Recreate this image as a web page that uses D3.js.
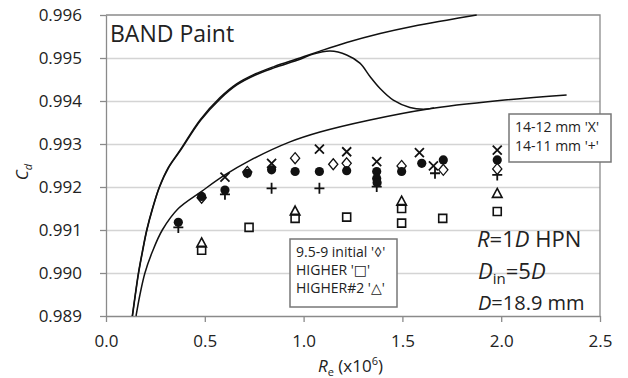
<!DOCTYPE html>
<html>
<head>
<meta charset="utf-8">
<script src="https://cdn.jsdelivr.net/npm/d3@7"></script>
<style>
  body { margin: 0; background: #fff; }
  svg { display: block; }
  text { font-family: "Open Sans", "DejaVu Sans", sans-serif; fill: #222; }
</style>
</head>
<body>
<div id="chart"></div>
<script>
////////////////////////////////////////////////////////////////////////
// Data: [Re (x10^6), Cd]

// filled circles (unlabelled series)
let dotPts = [
  [0.366, 0.99118], [0.484, 0.99178], [0.602, 0.99193], [0.715, 0.99232],
  [0.838, 0.99240], [0.957, 0.99236], [1.080, 0.99236], [1.218, 0.99238],
  [1.370, 0.99236], [1.370, 0.99220], [1.372, 0.99210], [1.496, 0.99236],
  [1.598, 0.99255], [1.707, 0.99263], [1.980, 0.99263]
];
// 9.5-9 initial (open diamond)
let diamondPts = [
  [0.484, 0.99175], [0.715, 0.99235], [0.957, 0.99267], [1.150, 0.99253],
  [1.218, 0.99255], [1.496, 0.99249], [1.707, 0.99240], [1.980, 0.99242]
];
// 14-12 mm (X)
let timesPts = [
  [0.602, 0.99223], [0.838, 0.99255], [1.080, 0.99288], [1.218, 0.99282],
  [1.370, 0.99259], [1.586, 0.99280], [1.657, 0.99249], [1.980, 0.99286]
];
// 14-11 mm (+)
let plusPts = [
  [0.366, 0.99106], [0.602, 0.99183], [0.838, 0.99197], [1.080, 0.99197],
  [1.370, 0.99201], [1.665, 0.99232], [1.980, 0.99228]
];
// HIGHER (square)
let squarePts = [
  [0.484, 0.99053], [0.724, 0.99106], [0.957, 0.99127], [1.218, 0.99130],
  [1.496, 0.99150], [1.496, 0.99116], [1.704, 0.99127], [1.980, 0.99143]
];
// HIGHER#2 (triangle)
let trianglePts = [
  [0.484, 0.99069], [0.957, 0.99143], [1.496, 0.99166], [1.980, 0.99184]
];

// theory curves
let curveUpper = [
  [0.133, 0.9890], [0.148, 0.9895], [0.164, 0.9900], [0.184, 0.9905],
  [0.206, 0.9910], [0.235, 0.9915], [0.270, 0.9920], [0.315, 0.99245],
  [0.374, 0.99285], [0.476, 0.99356], [0.577, 0.99408], [0.661, 0.99440],
  [0.750, 0.99462], [0.850, 0.99480], [0.982, 0.99500], [1.083, 0.99516],
  [1.218, 0.99536], [1.387, 0.99557], [1.555, 0.99574], [1.724, 0.99588],
  [1.876, 0.99600]
];
let curveHump = [
  [0.134, 0.9890], [0.149, 0.9895], [0.165, 0.9900], [0.185, 0.9905],
  [0.207, 0.9910], [0.236, 0.9915], [0.271, 0.9920], [0.317, 0.99245],
  [0.377, 0.99285], [0.479, 0.99355], [0.580, 0.99406], [0.664, 0.99438],
  [0.753, 0.99460], [0.850, 0.99477], [0.982, 0.99497], [1.049, 0.99509],
  [1.134, 0.99516], [1.218, 0.99507], [1.285, 0.99488], [1.336, 0.99457],
  [1.387, 0.99429], [1.454, 0.99402], [1.538, 0.99385], [1.606, 0.99381],
  [1.660, 0.99384]
];
let curveLower = [
  [0.152, 0.9890], [0.172, 0.9895], [0.197, 0.9900], [0.235, 0.9905],
  [0.285, 0.9910], [0.366, 0.9915], [0.484, 0.9919], [0.602, 0.99228],
  [0.729, 0.99262], [0.931, 0.99305], [1.083, 0.99328], [1.336, 0.99356],
  [1.623, 0.99381], [1.992, 0.99401], [2.331, 0.99414]
];

// axis ticks
let xTicks = [0.0, 0.5, 1.0, 1.5, 2.0, 2.5];
let yTicks = [0.989, 0.990, 0.991, 0.992, 0.993, 0.994, 0.995, 0.996];

////////////////////////////////////////////////////////////////////////
// svg and scales

let width = 628;
let height = 378;
let plotLeft = 106, plotRight = 600, plotTop = 15, plotBottom = 316;

let svg = d3.select("#chart")
  .append("svg")
  .attr("width", width).attr("height", height);

let xScale = d3.scaleLinear().domain([0, 2.5]).range([plotLeft, plotRight]);
let yScale = d3.scaleLinear().domain([0.989, 0.996]).range([plotBottom, plotTop]);

// gridlines
svg.append("g")
  .attr("class", "grid")
  .attr("transform", "translate(" + plotLeft + ",0)")
  .call(d3.axisLeft(yScale).tickValues(yTicks.slice(1, -1)).tickSize(-(plotRight - plotLeft)).tickFormat(""))
  .call(g => g.select(".domain").remove())
  .selectAll("line").attr("stroke", "#d4d4d4").attr("stroke-width", 1.6);

// plot frame (top and right)
svg.append("path")
  .attr("d", "M" + plotLeft + "," + plotTop + "H" + plotRight + "V" + plotBottom)
  .attr("fill", "none").attr("stroke", "#8a8a8a").attr("stroke-width", 1.3);

// y axis
let yAxis = svg.append("g")
  .attr("transform", "translate(" + plotLeft + ",0)")
  .call(d3.axisLeft(yScale).tickValues(yTicks).tickFormat(d3.format(".3f"))
    .tickSizeInner(6).tickSizeOuter(0).tickPadding(18));
yAxis.select(".domain").attr("stroke", "#8a8a8a").attr("stroke-width", 1.3);
yAxis.selectAll("line").attr("stroke", "#8a8a8a").attr("stroke-width", 1.3);
yAxis.selectAll("text").style("font-size", "17px").attr("fill", "#333");

// x axis
let xAxis = svg.append("g")
  .attr("transform", "translate(0," + plotBottom + ")")
  .call(d3.axisBottom(xScale).tickValues(xTicks).tickFormat(d3.format(".1f"))
    .tickSizeInner(6).tickSizeOuter(0).tickPadding(13));
xAxis.select(".domain").attr("stroke", "#8a8a8a").attr("stroke-width", 1.3);
xAxis.selectAll("line").attr("stroke", "#8a8a8a").attr("stroke-width", 1.3);
xAxis.selectAll("text").style("font-size", "17px").attr("fill", "#333");

////////////////////////////////////////////////////////////////////////
// curves

let line = d3.line()
  .x(d => xScale(d[0]))
  .y(d => yScale(d[1]))
  .curve(d3.curveCatmullRom.alpha(0.5));

svg.append("g")
  .selectAll(".curve")
  .data([curveUpper, curveHump, curveLower])
  .enter()
  .append("path")
  .attr("class", "curve")
  .attr("d", line)
  .attr("fill", "none")
  .attr("stroke", "#111")
  .attr("stroke-width", 1.5);

////////////////////////////////////////////////////////////////////////
// markers

// marker shapes centred on 0,0
function markerPath(type) {
  if (type == "diamond") return "M0,-5.5L4.6,0L0,5.5L-4.6,0Z";
  if (type == "times") return "M-4.5,-4.5L4.5,4.5M-4.5,4.5L4.5,-4.5";
  if (type == "plus") return "M-5,0H5M0,-5.5V5.5";
  if (type == "square") return "M-4,-4H4V4H-4Z";
  if (type == "triangle") return "M0,-5.5L4.8,3.5H-4.8Z";
  return "";
}

function drawMarkers(pts, type, fill, sw) {
  svg.append("g")
    .selectAll("path")
    .data(pts)
    .enter()
    .append("path")
    .attr("transform", d => "translate(" + xScale(d[0]) + "," + yScale(d[1]) + ")")
    .attr("d", markerPath(type))
    .attr("fill", fill)
    .attr("stroke", "#111")
    .attr("stroke-width", sw);
}

drawMarkers(squarePts, "square", "#fff", 1.6);
drawMarkers(trianglePts, "triangle", "none", 1.6);
drawMarkers(plusPts, "plus", "none", 1.8);
drawMarkers(diamondPts, "diamond", "#fff", 1.3);

svg.append("g")
  .selectAll("circle")
  .data(dotPts)
  .enter()
  .append("circle")
  .attr("cx", d => xScale(d[0]))
  .attr("cy", d => yScale(d[1]))
  .attr("r", 4.6)
  .attr("fill", "#111");

drawMarkers(timesPts, "times", "none", 1.8);

////////////////////////////////////////////////////////////////////////
// labels

svg.append("text")
  .attr("x", 110).attr("y", 42)
  .style("font-size", "23px")
  .text("BAND Paint");

// y title
let yTitle = svg.append("text")
  .attr("transform", "translate(28,172) rotate(-90)")
  .attr("text-anchor", "middle")
  .style("font-size", "17px");
yTitle.append("tspan").style("font-style", "italic").text("C");
yTitle.append("tspan").attr("dy", 4).style("font-size", "11px").style("font-style", "italic").text("d");

// x title
let xTitle = svg.append("text")
  .attr("x", 318).attr("y", 372)
  .style("font-size", "17px");
xTitle.append("tspan").style("font-style", "italic").text("R");
xTitle.append("tspan").attr("dy", 4).style("font-size", "11px").text("e");
xTitle.append("tspan").attr("dy", -4).text(" (x10");
xTitle.append("tspan").attr("dy", -7).style("font-size", "11px").text("6");
xTitle.append("tspan").attr("dy", 7).text(")");

// legend boxes
function legendBox(x, y, w, h, lines, lineGap) {
  svg.append("rect")
    .attr("x", x).attr("y", y).attr("width", w).attr("height", h)
    .attr("fill", "#fff").attr("stroke", "#777").attr("stroke-width", 1.5);
  svg.append("g")
    .selectAll("text")
    .data(lines)
    .enter()
    .append("text")
    .attr("x", x + 6)
    .attr("y", (d, i) => y + 18 + i * lineGap)
    .style("font-size", "14px")
    .attr("fill", "#333")
    .text(d => d);
}

legendBox(290, 239, 107, 68, ["9.5-9 initial '◊'", "HIGHER '□'", "HIGHER#2  '△'"], 18);
legendBox(509, 114, 102, 48, ["14-12 mm 'X'", "14-11 mm '+'"], 19);

// case annotation
let ann1 = svg.append("text").attr("x", 477).attr("y", 247).style("font-size", "22px");
ann1.append("tspan").style("font-style", "italic").text("R");
ann1.append("tspan").text("=1");
ann1.append("tspan").style("font-style", "italic").text("D");
ann1.append("tspan").text(" HPN");

let ann2 = svg.append("text").attr("x", 478).attr("y", 279).style("font-size", "22px");
ann2.append("tspan").style("font-style", "italic").text("D");
ann2.append("tspan").attr("dy", 5).style("font-size", "15px").text("in");
ann2.append("tspan").attr("dy", -5).text("=5");
ann2.append("tspan").style("font-style", "italic").text("D");

let ann3 = svg.append("text").attr("x", 478).attr("y", 310).style("font-size", "20px");
ann3.append("tspan").style("font-style", "italic").text("D");
ann3.append("tspan").text("=18.9 mm");
</script>
</body>
</html>
